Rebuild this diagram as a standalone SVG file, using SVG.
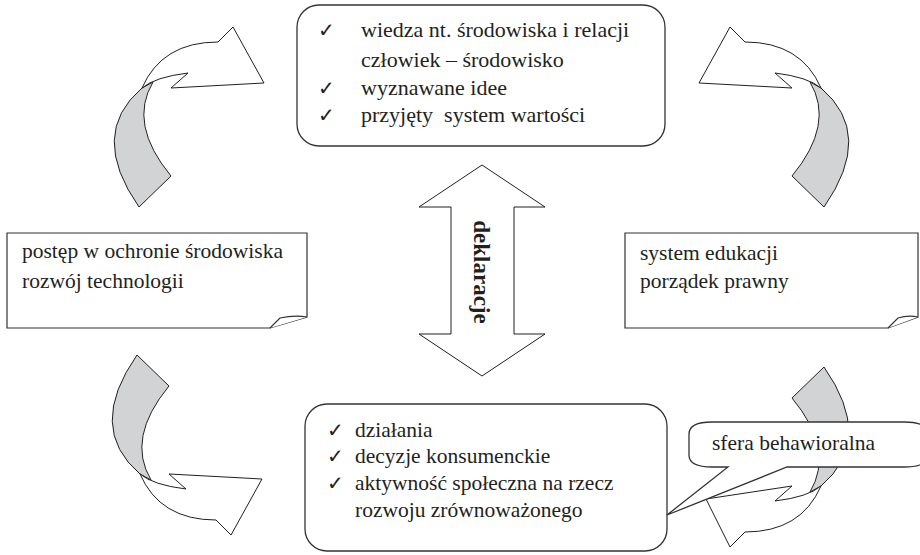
<svg xmlns="http://www.w3.org/2000/svg" xmlns:xlink="http://www.w3.org/1999/xlink" width="920" height="555" viewBox="0 0 920 555">
<style>
  .txt { font-family: "Liberation Serif", "Times New Roman", serif; font-size: 21.5px; fill: #231f20; }
  .big { font-size: 22px; }
  .chk { font-family: "DejaVu Sans", sans-serif; font-size: 20px; fill: #231f20; }
  .bold { font-family: "Liberation Serif", "Times New Roman", serif; font-size: 23px; font-weight: bold; fill: #231f20; }
  .box { fill: #ffffff; stroke: #333333; stroke-width: 1.3; }
  .note { fill: #ffffff; stroke: #333333; stroke-width: 1.2; }
  .back { fill: #d1d3d4; stroke: #231f20; stroke-width: 1; }
  .face { fill: #ffffff; stroke: #231f20; stroke-width: 1; }
</style>
<defs>
  <g id="curvedArrow">
    <path class="back" d="M142,88 Q88,134 139,207 L171,176 Q128,124 153,82 Z"/>
    <path class="face" d="M142,88 Q162,42 218,42 L233,27 L264,83 L171,88 L188,73 Q155,77 142,88 Z"/>
  </g>
</defs>
<rect width="920" height="555" fill="#ffffff"/>

<g id="connectors">
  <use id="arrow-tl" xlink:href="#curvedArrow"/>
  <use id="arrow-tr" xlink:href="#curvedArrow" transform="translate(963,0) scale(-1,1)"/>
  <use id="arrow-bl" xlink:href="#curvedArrow" transform="translate(-2,562) scale(1,-1)"/>
  <g id="arrow-br">
    <path class="back" d="M821,486 Q875,440 824,367 L792,398 Q835,450 810,492 Z"/>
    <path class="face" d="M821,486 Q801,532 745,532 L730,547 L706,499 L792,486 L775,501 Q808,497 821,486 Z"/>
  </g>
  <g id="deklaracje">
    <polygon class="face" points="482,165 545,207 514,207 514,334 545,334 482,376 419,334 451,334 451,207 419,207"/>
    <text class="bold" transform="translate(474,272) rotate(90)" text-anchor="middle">deklaracje</text>
  </g>
</g>

<g id="node-top">
  <rect class="box" x="297" y="5" width="368" height="141" rx="22" ry="22"/>
  <text class="chk" x="318" y="37">✓</text>
  <text class="txt big" x="361" y="37">wiedza nt. środowiska i relacji</text>
  <text class="txt big" x="361" y="67">człowiek – środowisko</text>
  <text class="chk" x="318" y="95">✓</text>
  <text class="txt big" x="361" y="95">wyznawane idee</text>
  <text class="chk" x="318" y="122">✓</text>
  <text class="txt big" x="361" y="122" xml:space="preserve">przyjęty  system wartości</text>
</g>

<g id="node-left">
  <path class="note" d="M7,233 H307 V317 L270,328 H7 Z"/>
  <path class="note" d="M270,328 L280,318 Q294,315 307,317"/>
  <text class="txt" x="22" y="258">postęp w ochronie środowiska</text>
  <text class="txt" x="22" y="288">rozwój technologii</text>
</g>

<g id="node-right">
  <path class="note" d="M625,233 H918 V317 L888,328 H625 Z"/>
  <path class="note" d="M888,328 L898,318 Q908,315 918,317"/>
  <text class="txt" x="640" y="260">system edukacji</text>
  <text class="txt" x="640" y="288">porządek prawny</text>
</g>

<g id="node-bottom">
  <rect class="box" x="305" y="404" width="362" height="147" rx="22" ry="22"/>
  <text class="chk" x="327" y="437">✓</text>
  <text class="txt" x="355" y="437">działania</text>
  <text class="chk" x="327" y="463">✓</text>
  <text class="txt" x="355" y="463">decyzje konsumenckie</text>
  <text class="chk" x="327" y="490">✓</text>
  <text class="txt" x="355" y="490">aktywność społeczna na rzecz</text>
  <text class="txt" x="355" y="517">rozwoju zrównoważonego</text>
</g>

<g id="node-callout">
  <path class="box" d="M712,422 H904 Q928,422 928,434 V455 Q928,467 904,467 H787 L667,515 L728,467 H712 Q689,467 689,455 V434 Q689,422 712,422 Z"/>
  <text class="txt" x="712" y="450">sfera behawioralna</text>
</g>
</svg>
